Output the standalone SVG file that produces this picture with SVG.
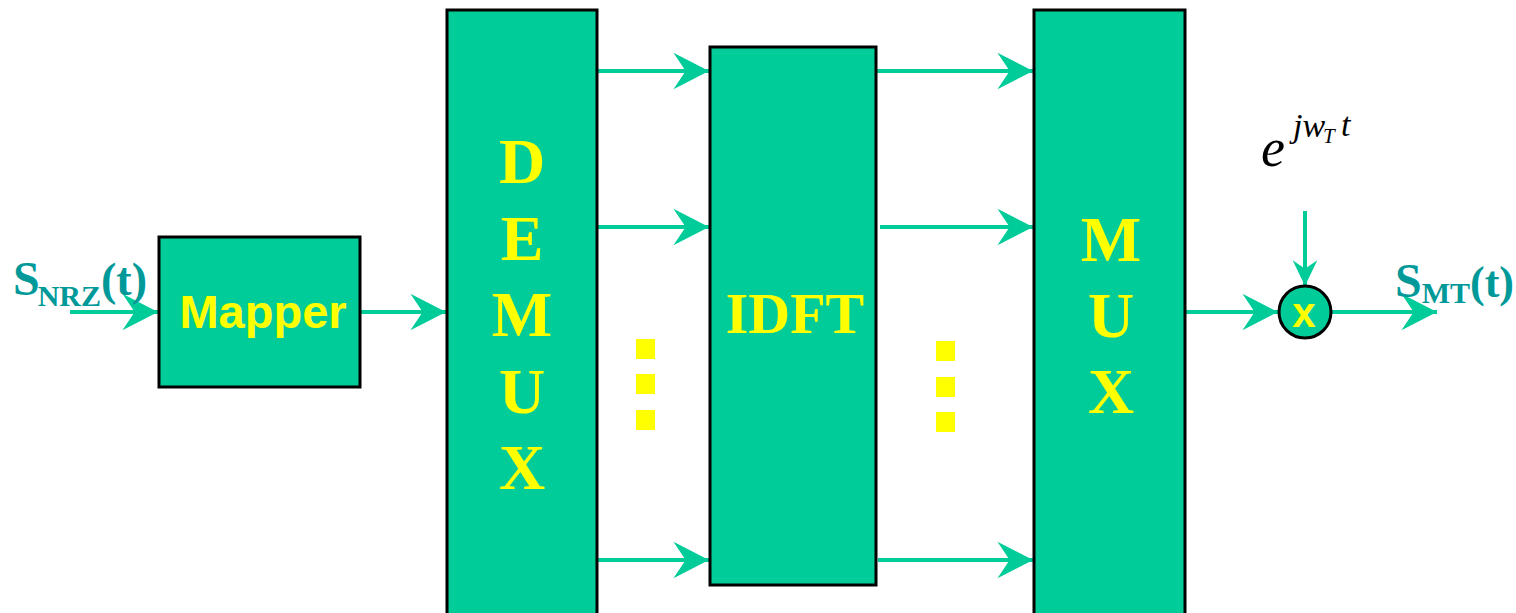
<svg xmlns="http://www.w3.org/2000/svg" width="1516" height="613" viewBox="0 0 1516 613">
<style>
.box{fill:#00CC99;stroke:#000;stroke-width:3}
.wire{stroke:#00CC99;stroke-width:4;fill:none}
.big{font-family:"Liberation Serif","Times New Roman",serif;font-weight:bold;fill:#FFFF00;text-anchor:middle}
.sans{font-family:"Liberation Sans",Arial,sans-serif;font-weight:bold;fill:#FFFF00;text-anchor:middle}
.lab{font-family:"Liberation Serif","Times New Roman",serif;font-weight:bold;fill:#009999}
.math{font-family:"Liberation Serif","Times New Roman",serif;font-style:italic;fill:#000}
.dot{fill:#FFFF00}
</style>
<defs>
<marker id="ah" markerUnits="userSpaceOnUse" markerWidth="40" markerHeight="40" viewBox="-34 -18 36 36" refX="0" refY="0" orient="auto">
<path d="M0,0 L-32,-16.5 L-21,0 L-32,16.5 Z" fill="#00CC99"/>
</marker>
<marker id="ahs" markerUnits="userSpaceOnUse" markerWidth="30" markerHeight="30" viewBox="-26 -13 28 26" refX="0" refY="0" orient="auto">
<path d="M0,0 L-24,-11.5 L-16,0 L-24,11.5 Z" fill="#00CC99"/>
</marker>
</defs>
<rect width="1516" height="613" fill="#fff"/>

<g id="connectors">
<line class="wire" x1="70" y1="312" x2="158" y2="312" marker-end="url(#ah)"/>
<line class="wire" x1="360" y1="312" x2="446" y2="312" marker-end="url(#ah)"/>
<line class="wire" x1="597" y1="71" x2="709" y2="71" marker-end="url(#ah)"/>
<line class="wire" x1="597" y1="227" x2="709" y2="227" marker-end="url(#ah)"/>
<line class="wire" x1="597" y1="560" x2="709" y2="560" marker-end="url(#ah)"/>
<line class="wire" x1="876" y1="71" x2="1033" y2="71" marker-end="url(#ah)"/>
<line class="wire" x1="880" y1="227" x2="1033" y2="227" marker-end="url(#ah)"/>
<line class="wire" x1="878" y1="560" x2="1033" y2="560" marker-end="url(#ah)"/>
<line class="wire" x1="1185" y1="312" x2="1278" y2="312" marker-end="url(#ah)"/>
<line class="wire" x1="1332" y1="312" x2="1437" y2="312" marker-end="url(#ah)"/>
<line class="wire" x1="1305" y1="211" x2="1305" y2="286" marker-end="url(#ahs)"/>
</g>

<g id="mapper">
<rect class="box" x="159" y="237" width="201" height="150"/>
<text class="sans" x="263" y="328" font-size="47">Mapper</text>
</g>

<g id="demux">
<rect class="box" x="447" y="10" width="150" height="620"/>
<text class="big" font-size="64" x="522" y="183">D</text>
<text class="big" font-size="64" x="522" y="260">E</text>
<text class="big" font-size="64" x="522" y="336">M</text>
<text class="big" font-size="64" x="522" y="413">U</text>
<text class="big" font-size="64" x="522" y="489">X</text>
</g>

<g id="dots-left">
<rect class="dot" x="636" y="339" width="19" height="20"/>
<rect class="dot" x="636" y="374" width="19" height="20"/>
<rect class="dot" x="636" y="410" width="19" height="20"/>
</g>

<g id="idft">
<rect class="box" x="710" y="47" width="166" height="538"/>
<text class="big" font-size="58" x="795" y="333">IDFT</text>
</g>

<g id="dots-right">
<rect class="dot" x="936" y="341" width="19" height="20"/>
<rect class="dot" x="936" y="377" width="19" height="20"/>
<rect class="dot" x="936" y="412" width="19" height="20"/>
</g>

<g id="mux">
<rect class="box" x="1034" y="10" width="151" height="620"/>
<text class="big" font-size="64" x="1111" y="261">M</text>
<text class="big" font-size="64" x="1111" y="337">U</text>
<text class="big" font-size="64" x="1111" y="413">X</text>
</g>

<g id="multiplier">
<circle cx="1305" cy="312" r="26" fill="#00CC99" stroke="#000" stroke-width="3"/>
<text class="sans" x="1304" y="327" font-size="42">x</text>
</g>

<g id="label-in">
<text class="lab" font-size="48" x="13" y="295">S<tspan font-size="30" dx="-2" dy="11">NRZ</tspan><tspan font-size="46" dy="-11">(t)</tspan></text>
</g>

<g id="label-out">
<text class="lab" font-size="48" x="1395" y="297">S<tspan font-size="30" dy="6">MT</tspan><tspan font-size="44" dy="-6">(t)</tspan></text>
</g>

<g id="carrier">
<text class="math" font-size="54" x="1261" y="166">e<tspan font-size="34" x="1293" y="137">jw</tspan><tspan font-size="21" x="1323" y="143">T</tspan><tspan font-size="34" x="1341" y="136">t</tspan></text>
</g>
</svg>
